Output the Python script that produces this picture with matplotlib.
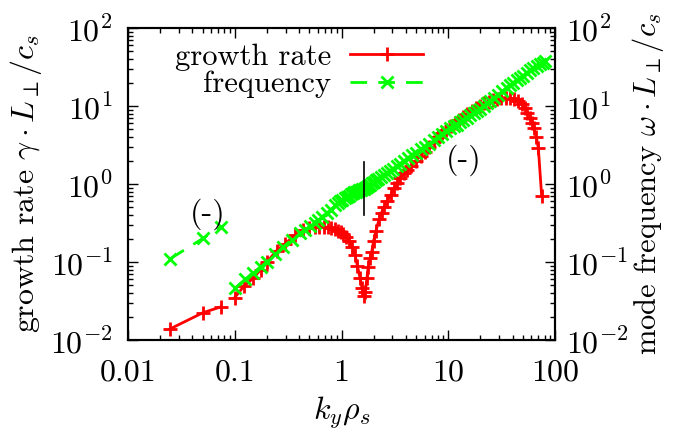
import matplotlib
matplotlib.use('Agg')
import matplotlib.pyplot as plt
from matplotlib.ticker import FixedLocator, LogLocator, NullFormatter

plt.rcParams['font.family'] = 'cmr10'
plt.rcParams['mathtext.fontset'] = 'cm'
plt.rcParams['axes.formatter.use_mathtext'] = True

# growth rate, low-k branch (separate segment)
k_gr_low = [0.0246, 0.0504, 0.0748]
gr_low = [0.0138, 0.0224, 0.0267]

# growth rate, main branch
k_gr = [0.1, 0.122, 0.149, 0.175, 0.2, 0.247, 0.296, 0.366, 0.44, 0.50,
        0.56, 0.62, 0.68, 0.74, 0.80, 0.86, 0.92, 0.98, 1.04, 1.10,
        1.17, 1.25, 1.34, 1.41, 1.49, 1.56, 1.62, 1.67, 1.73, 1.78,
        1.85, 1.92, 2.0, 2.1, 2.25, 2.37, 2.5, 2.69, 2.89, 3.13,
        3.34, 3.53, 3.85, 4.1, 4.5, 5.0, 5.5, 6.0, 6.6, 7.3,
        8.0, 8.8, 9.6, 10.5, 11.5, 12.6, 13.8, 15.1, 16.6, 18.2,
        19.9, 21.8, 23.9, 26.2, 28.7, 31.4, 34.4, 37.7, 41.3, 45.2,
        48.8, 52.4, 55.1, 58.4, 61.0, 63.6, 66.8, 69.8, 75.0]
gr = [0.035, 0.049, 0.062, 0.08, 0.100, 0.140, 0.172, 0.220, 0.255, 0.272,
      0.280, 0.283, 0.282, 0.278, 0.272, 0.262, 0.252, 0.240, 0.228, 0.211,
      0.186, 0.157, 0.123, 0.089, 0.063, 0.046, 0.037, 0.041, 0.062, 0.087,
      0.112, 0.136, 0.187, 0.25, 0.352, 0.43, 0.50, 0.605, 0.72, 0.88,
      1.02, 1.18, 1.37, 1.50, 1.70, 2.0, 2.3, 2.6, 3.0, 3.45,
      3.95, 4.45, 4.95, 5.5, 6.1, 6.7, 7.3, 8.0, 8.7, 9.4,
      10.1, 10.8, 11.4, 12.0, 12.4, 12.7, 12.8, 12.7, 12.4, 11.6,
      10.6, 9.4, 8.2, 7.1, 6.1, 5.2, 4.0, 2.9, 0.70]

# frequency, low-k branch (negative sign)
k_fr_low = [0.0246, 0.0504, 0.0748]
fr_low = [0.109, 0.201, 0.284]

# frequency, main branch
k_fr = [0.1, 0.125, 0.149, 0.175, 0.2, 0.24, 0.285, 0.341, 0.408, 0.46,
        0.507, 0.56, 0.607, 0.66, 0.727, 0.80, 0.87, 0.92, 0.97, 1.02,
        1.07, 1.12, 1.17, 1.22, 1.27, 1.32, 1.37, 1.42, 1.47, 1.52,
        1.57, 1.62, 1.67, 1.72, 1.78, 1.85, 1.92, 2.0, 2.1, 2.2,
        2.35, 2.5, 2.65, 2.85, 3.05, 3.3, 3.55, 3.85, 4.2, 4.6,
        5.0, 5.5, 6.0, 6.6, 7.3, 8.0, 8.8, 9.6, 10.4, 11.2,
        12.0, 12.9, 13.8, 14.9, 16.0, 17.3, 18.5, 19.8, 21.5, 23.0,
        24.6, 27.0, 29.4, 32.2, 35.3, 38.0, 40.7, 43.8, 47.0, 50.5,
        54.3, 58.3, 62.7, 67.3, 72.3, 76.5, 80.5]
fr = [0.046, 0.060, 0.073, 0.086, 0.101, 0.125, 0.157, 0.191, 0.233, 0.26,
      0.29, 0.32, 0.345, 0.38, 0.42, 0.47, 0.54, 0.57, 0.60, 0.63,
      0.66, 0.69, 0.71, 0.74, 0.76, 0.78, 0.80, 0.82, 0.84, 0.85,
      0.86, 0.87, 0.89, 0.91, 0.94, 0.98, 1.02, 1.06, 1.11, 1.16,
      1.23, 1.30, 1.37, 1.46, 1.56, 1.69, 1.82, 1.97, 2.13, 2.32,
      2.52, 2.77, 3.0, 3.3, 3.65, 4.0, 4.4, 4.8, 5.2, 5.5,
      5.75, 6.2, 6.7, 7.1, 7.6, 8.2, 8.7, 9.2, 10.0, 10.8,
      11.5, 12.7, 14.0, 15.5, 17.0, 18.5, 19.7, 21.3, 22.9, 24.6,
      26.5, 28.6, 30.7, 32.6, 34.5, 36.0, 37.4]

# vertical marker line
k_mark = [1.64, 1.64]
y_mark = [0.40, 1.93]

xticks = [0.01, 0.1, 1, 10, 100]
xticklabels = ['0.01', '0.1', '1', '10', '100']
yticks = [0.01, 0.1, 1, 10, 100]
yticklabels = [r'$10^{-2}$', r'$10^{-1}$', r'$10^{0}$', r'$10^{1}$', r'$10^{2}$']

fs = 23

fig = plt.figure(figsize=(6.78, 4.30), dpi=100)
ax = fig.add_axes([128/678, 1 - 340/430, 427/678, 312/430])
ax.set_xscale('log')
ax.set_yscale('log')
ax.set_xlim(0.01, 100)
ax.set_ylim(0.01, 100)

red = '#ff0000'
green = '#00ff00'

ax.plot(k_gr_low, gr_low, color=red, lw=2, marker='+', ms=10, mew=2)
ax.plot(k_gr, gr, color=red, lw=2, marker='+', ms=10, mew=2,
        label='growth rate')
ax.plot(k_fr_low, fr_low, color=green, lw=2, marker='x', ms=8, mew=2,
        dashes=(6, 4))
ax.plot(k_fr, fr, color=green, lw=2, marker='x', ms=8, mew=2,
        dashes=(6, 4), label='frequency')
ax.plot(k_mark, y_mark, color='black', lw=1.2)

ax.text(0.056, 0.41, '(-)', fontsize=fs, ha='center', va='center')
ax.text(14.1, 2.03, '(-)', fontsize=fs, ha='center', va='center')

ax.xaxis.set_major_locator(FixedLocator(xticks))
ax.set_xticklabels(xticklabels)
ax.xaxis.set_minor_locator(LogLocator(base=10, subs=range(2, 10)))
ax.xaxis.set_minor_formatter(NullFormatter())
ax.yaxis.set_major_locator(FixedLocator(yticks))
ax.set_yticklabels(yticklabels)
ax.yaxis.set_minor_locator(LogLocator(base=10, subs=range(2, 10)))
ax.yaxis.set_minor_formatter(NullFormatter())

ax.tick_params(which='both', direction='in', top=True, right=False,
               labelsize=fs, width=1.0)
ax.tick_params(which='major', length=7)
ax.tick_params(which='minor', length=3.5)
ax.tick_params(axis='x', pad=14)
ax.tick_params(axis='y', pad=11)

ax2 = ax.twinx()
ax2.set_yscale('log')
ax2.set_ylim(0.01, 100)
ax2.yaxis.set_major_locator(FixedLocator(yticks))
ax2.set_yticklabels(yticklabels)
ax2.yaxis.set_minor_locator(LogLocator(base=10, subs=range(2, 10)))
ax2.yaxis.set_minor_formatter(NullFormatter())
ax2.tick_params(which='both', direction='in', labelsize=fs, width=1.0, pad=8)
ax2.tick_params(which='major', length=7)
ax2.tick_params(which='minor', length=3.5)

for a in (ax, ax2):
    for s in a.spines.values():
        s.set_linewidth(1.5)

ax.set_xlabel(r'$k_y\rho_s$', fontsize=fs, labelpad=6)
ax.set_ylabel(r'growth rate $\gamma\cdot L_\perp/c_s$', fontsize=fs, labelpad=4)
ax2.set_ylabel(r'mode frequency $\omega\cdot L_\perp/c_s$', fontsize=fs - 1,
               labelpad=1)

ax.legend(loc='upper right', bbox_to_anchor=(0.72, 0.99), frameon=False,
          markerfirst=False, fontsize=fs - 1, handlelength=2.4,
          borderaxespad=0.0, labelspacing=0.0, handletextpad=0.6)

fig.savefig('out.png', dpi=100)
